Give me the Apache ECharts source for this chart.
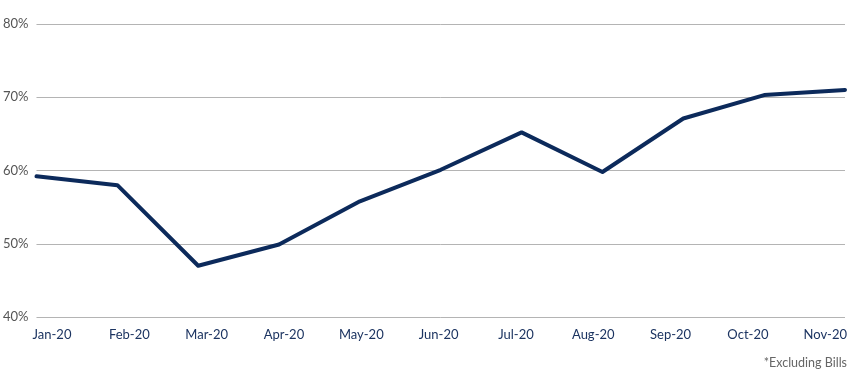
<!DOCTYPE html>
<html>
<head>
<meta charset="utf-8">
<script src="https://cdn.jsdelivr.net/npm/echarts@6/dist/echarts.min.js"></script>
<style>html,body{margin:0;padding:0;background:#fff}#c{width:850px;height:387px}</style>
</head>
<body>
<div id="c"></div>
<script>
var categories = ['Jan-20','Feb-20','Mar-20','Apr-20','May-20','Jun-20','Jul-20','Aug-20','Sep-20','Oct-20','Nov-20'];
var values = [59.2, 58.0, 47.0, 49.9, 55.8, 60.1, 65.2, 59.8, 67.1, 70.3, 71.0];
var yTicks = [40, 50, 60, 70, 80];
var footnote = '*Excluding Bills';

var chart = echarts.init(document.getElementById('c'));
chart.setOption({
  animation: false,
  grid: [
    {left: 35, right: 5, top: 24, bottom: 70},
    {left: 52, right: 23, top: 24, bottom: 70}
  ],
  xAxis: [
    {type: 'category', gridIndex: 0, data: categories, boundaryGap: false,
     axisLine: {show: false}, axisTick: {show: false}, axisLabel: {show: false}},
    {type: 'category', gridIndex: 1, data: categories, boundaryGap: false,
     axisLine: {show: false}, axisTick: {show: false},
     axisLabel: {color: '#1c3461', fontFamily: 'Lato', fontSize: 13, margin: 11}}
  ],
  yAxis: [
    {type: 'value', gridIndex: 0, min: yTicks[0], max: yTicks[yTicks.length-1], interval: 10,
     axisLine: {show: false}, axisTick: {show: false},
     axisLabel: {formatter: '{value}%', color: '#555', fontFamily: 'Lato', fontSize: 13, margin: 8},
     splitLine: {lineStyle: {color: '#b4b4b4', width: 1}}},
    {type: 'value', gridIndex: 1, min: 40, max: 80, show: false}
  ],
  graphic: [{
    type: 'text', right: 3, top: 356,
    style: {text: footnote, fill: '#666', font: '12.5px Lato'}
  }],
  series: [{
    type: 'line', xAxisIndex: 0, yAxisIndex: 0, data: values,
    symbol: 'none', lineStyle: {color: '#0c2a5b', width: 4, join: 'round', cap: 'round'}
  }]
});
</script>
</body>
</html>
